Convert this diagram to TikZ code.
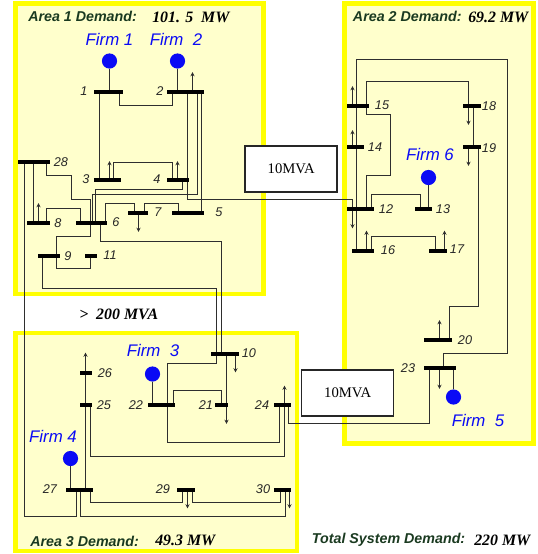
\documentclass[tikz,border=0pt]{standalone}
\usepackage{fontspec}
\setmainfont{Liberation Serif}
\setsansfont{Liberation Sans}
\usetikzlibrary{arrows.meta,calc}
\pgfdeclarelayer{fg}
\pgfsetlayers{main,fg}
\definecolor{areafill}{HTML}{FFFFCC}
\definecolor{areaedge}{HTML}{FFFF00}
\definecolor{wire}{HTML}{2E2E2E}
\definecolor{demand}{HTML}{1A3A20}
\definecolor{firmblue}{HTML}{0A0AF5}
\tikzset{
  x=0.75pt,y=-0.75pt,
  area/.style={draw=areaedge,fill=areafill,line width=3.4pt},
  wireline/.style={draw=wire,line width=0.72pt},
  loadline/.style={draw=wire,line width=0.72pt,-{Stealth[length=3.2pt,width=3pt]}},
  busbar/.style={fill=black,inner sep=0pt,minimum height=3pt,rectangle},
  gen/.style={circle,fill=firmblue,inner sep=0pt,minimum size=11.4pt},
  firmlabel/.style={font=\sffamily\itshape\fontsize{12.6}{14}\selectfont,text=firmblue,inner sep=0pt},
  buslabel/.style={font=\sffamily\itshape\fontsize{9.5}{11}\selectfont,text=black!85,inner sep=0pt},
  demandlabel/.style={font=\sffamily\bfseries\itshape\fontsize{10.7}{13}\selectfont,text=demand,inner sep=0pt,anchor=west},
  valuelabel/.style={font=\rmfamily\bfseries\itshape\fontsize{11.9}{13}\selectfont,text=black,inner sep=0pt,anchor=west},
  mvabox/.style={draw=black!85,fill=white,line width=1.1pt,inner sep=0pt,font=\rmfamily\fontsize{11}{13}\selectfont},
}
\newcommand{\busbar}[4]{%
  \pgfmathsetmacro{\bcx}{(#2+#3)/2}%
  \pgfmathsetmacro{\bw}{(#3-#2)*0.75}%
  \begin{pgfonlayer}{fg}\node[busbar,minimum width=\bw pt] (b#1) at (\bcx,#4) {};\end{pgfonlayer}}
\newcommand{\busname}[3]{\node[buslabel] (t#1) at (#2,#3) {#1};}
\newcommand{\loadat}[3]{\coordinate (l#1) at (#2,#3);\draw[loadline] (l#1 |- b#1) -- (l#1);}
\begin{document}
\begin{tikzpicture}
\useasboundingbox (0,0) rectangle (537,554);
% areas
\draw[area] (15.5,3.5) rectangle (263.5,294);
\draw[area] (344.5,3.5) rectangle (533.5,443.5);
\draw[area] (15.5,333) rectangle (297,551);
% buses
\busbar{1}{94}{123}{92}
\busbar{2}{167}{204}{92}
\busbar{3}{94}{121}{180}
\busbar{4}{167}{189}{180}
\busbar{28}{18}{50}{162}
\busbar{8}{27}{50}{223}
\busbar{6}{76}{107}{223}
\busbar{7}{128}{148}{213}
\busbar{5}{172}{204}{213}
\busbar{9}{38}{60}{256}
\busbar{11}{85}{97}{256}
\busbar{15}{347}{369}{106}
\busbar{14}{347}{364}{147}
\busbar{18}{463}{481}{106}
\busbar{19}{463}{481}{147}
\busbar{12}{347}{374}{209}
\busbar{13}{415}{432}{209}
\busbar{16}{352}{374}{251}
\busbar{17}{429}{447}{251}
\busbar{20}{424}{452}{340}
\busbar{23}{424}{456}{368}
\busbar{10}{211}{239}{354}
\busbar{26}{80}{92}{373}
\busbar{25}{80}{92}{405}
\busbar{22}{148}{175}{405}
\busbar{21}{215}{228}{405}
\busbar{24}{274}{291}{405}
\busbar{27}{66}{93}{490}
\busbar{29}{177}{195}{490}
\busbar{30}{274}{291}{490}
% generators
\node[gen] (g1) at (109.5,61) {};
\node[gen] (g2) at (177.5,61) {};
\node[gen] (g3) at (152.5,374) {};
\node[gen] (g4) at (70.5,458.5) {};
\node[gen] (g5) at (453.5,397) {};
\node[gen] (g6) at (428.5,177.5) {};
\draw[wireline] (g1) -- (g1 |- b1);
\draw[wireline] (g2) -- (g2 |- b2);
\draw[wireline] (g3) -- (g3 |- b22);
\draw[wireline] (g4) -- (g4 |- b27);
\draw[wireline] (g5) -- (g5 |- b23);
\draw[wireline] (g6) -- (g6 |- b13);
% area 1 connectors
\draw[wireline] (119.5,0 |- b1) -- (119.5,105.5) -- (172.5,105.5) -- (172.5,0 |- b2);
\draw[wireline] (99.5,0 |- b1) -- (99.5,0 |- b3);
\draw[wireline] (113.5,0 |- b3) -- (113.5,162.5) -- (172.5,162.5) -- (172.5,0 |- b4);
\draw[wireline] (197.5,0 |- b2) -- (197.5,194.5) -- (92.5,194.5) -- (92.5,0 |- b6);
\draw[wireline] (201.5,0 |- b2) -- (201.5,0 |- b5);
\draw[wireline] (182.5,0 |- b4) -- (182.5,189.5) -- (95.5,189.5) -- (95.5,0 |- b6);
\draw[wireline] (144.5,0 |- b7) -- (144.5,203.5) -- (178.5,203.5) -- (178.5,0 |- b5);
\draw[wireline] (105.5,0 |- b6) -- (105.5,203.5) -- (134.5,203.5) -- (134.5,0 |- b7);
\draw[wireline] (46.5,0 |- b28) -- (46.5,175.5) -- (71.5,175.5) -- (71.5,199.5) -- (90.5,199.5) -- (90.5,0 |- b6);
\draw[wireline] (90.5,0 |- b6) -- (90.5,236.5) -- (56.5,236.5) -- (56.5,0 |- b9);
\draw[wireline] (56.5,0 |- b9) -- (56.5,268.5) -- (90.5,268.5) -- (90.5,0 |- b11);
\draw[wireline] (33.5,0 |- b28) -- (33.5,0 |- b8);
\draw[wireline] (46.5,0 |- b8) -- (46.5,208.5) -- (80.5,208.5) -- (80.5,0 |- b6);
% inter-area connectors
\draw[wireline] (187.5,0 |- b2) -- (187.5,199.5) -- (352.5,199.5) -- (352.5,0 |- b12);
\draw[wireline] (24.5,0 |- b28) -- (24.5,516.5) -- (76.5,516.5) -- (76.5,0 |- b27);
\draw[wireline] (100.5,0 |- b6) -- (100.5,241.5) -- (221.5,241.5) -- (221.5,0 |- b10);
\draw[wireline] (42.5,0 |- b9) -- (42.5,288.5) -- (216.5,288.5) -- (216.5,0 |- b10);
\draw[wireline] (288.5,0 |- b24) -- (288.5,423.5) -- (429.5,423.5) -- (429.5,0 |- b23);
% area 3 connectors
\draw[wireline] (216.5,0 |- b10) -- (216.5,363.5) -- (167.5,363.5) -- (167.5,0 |- b22);
\draw[wireline] (167.5,0 |- b22) -- (167.5,442.5) -- (279.5,442.5) -- (279.5,0 |- b24);
\draw[wireline] (226.5,0 |- b10) -- (226.5,0 |- b21);
\draw[wireline] (173.5,0 |- b22) -- (173.5,390.5) -- (221.5,390.5) -- (221.5,0 |- b21);
\draw[wireline] (85.5,0 |- b27) -- (85.5,0 |- b25);
\draw[wireline] (85.5,0 |- b25) -- (85.5,0 |- b26);
\draw[wireline] (90.5,0 |- b25) -- (90.5,456.5) -- (284.5,456.5) -- (284.5,0 |- b24);
\draw[wireline] (90.5,0 |- b27) -- (90.5,502.5) -- (182.5,502.5) -- (182.5,0 |- b29);
\draw[wireline] (80.5,0 |- b27) -- (80.5,516.5) -- (285.5,516.5) -- (285.5,0 |- b30);
\draw[wireline] (192.5,0 |- b29) -- (192.5,502.5) -- (280.5,502.5) -- (280.5,0 |- b30);
% area 2 connectors
\draw[wireline] (356.5,0 |- b16) -- (356.5,59.5) -- (507.5,59.5) -- (507.5,353.5) -- (443.5,353.5) -- (443.5,0 |- b23);
\draw[wireline] (366.5,0 |- b15) -- (366.5,81.5) -- (468.5,81.5) -- (468.5,0 |- b18);
\draw[wireline] (366.5,0 |- b15) -- (366.5,114.5) -- (390.5,114.5) -- (390.5,175.5) -- (366.5,175.5) -- (366.5,0 |- b12);
\draw[wireline] (371.5,0 |- b12) -- (371.5,194.5) -- (420.5,194.5) -- (420.5,0 |- b13);
\draw[wireline] (371.5,0 |- b16) -- (371.5,236.5) -- (435.5,236.5) -- (435.5,0 |- b17);
\draw[wireline] (473.5,0 |- b18) -- (473.5,0 |- b19);
\draw[wireline] (478.5,0 |- b19) -- (478.5,306.5) -- (449.5,306.5) -- (449.5,0 |- b20);
% loads
\loadat{2}{192.5}{72}
\loadat{3}{109.5}{161}
\loadat{4}{177.5}{161}
\loadat{8}{38.5}{203}
\loadat{7}{138.5}{232}
\loadat{15}{352.5}{86}
\loadat{14}{352.5}{130}
\loadat{12}{352.5}{228.5}
\loadat{16}{366.5}{230.5}
\loadat{17}{444.5}{230.5}
\loadat{18}{468.5}{125}
\loadat{19}{468.5}{166}
\loadat{20}{439.5}{320}
\loadat{23}{439.5}{389}
\loadat{10}{235.5}{372.5}
\loadat{21}{226.5}{424}
\loadat{26}{85.5}{352.5}
\loadat{24}{284.5}{385.5}
\loadat{29}{187.5}{508.5}
\loadat{30}{289.5}{508.5}
% capacity boxes
\node[mvabox,minimum width=69pt,minimum height=34.5pt] (m1) at (291.2,169) {10MVA};
\node[mvabox,minimum width=69pt,minimum height=34.5pt] (m2) at (347.7,393.2) {10MVA};
% firm names
\node[firmlabel] (f1) at (109.5,39) {Firm 1};
\node[firmlabel] (f2) at (176,39) {Firm\ \ 2};
\node[firmlabel] (f3) at (153,350.7) {Firm\ \ 3};
\node[firmlabel] (f4) at (53,436.7) {Firm 4};
\node[firmlabel] (f5) at (478,420) {Firm\ \ 5};
\node[firmlabel] (f6) at (430,154) {Firm 6};
% bus numbers
\busname{1}{84}{90.7}
\busname{2}{160}{90.7}
\busname{3}{86}{179}
\busname{4}{157}{179}
\busname{28}{61}{162}
\busname{8}{58}{223}
\busname{6}{116}{222}
\busname{7}{158}{212}
\busname{5}{219}{212}
\busname{9}{68}{256}
\busname{11}{110}{255}
\busname{15}{382}{105}
\busname{14}{375}{147}
\busname{18}{489}{106}
\busname{19}{489}{148}
\busname{12}{386}{209}
\busname{13}{443}{209}
\busname{16}{388}{250}
\busname{17}{457}{249}
\busname{20}{465}{340}
\busname{23}{408}{368}
\busname{10}{249}{353}
\busname{26}{105}{373}
\busname{25}{104}{405}
\busname{22}{136}{405}
\busname{21}{206}{405}
\busname{24}{262}{405}
\busname{27}{50}{489}
\busname{29}{163}{489}
\busname{30}{263}{489}
% demand texts
\node[demandlabel] (d1) at (28,16) {Area 1 Demand:};
\node[valuelabel] (v1) at (152,17) {101. 5\ \ MW};
\node[demandlabel] (d2) at (352.7,16.7) {Area 2 Demand:};
\node[valuelabel] (v2) at (468,17) {69.2 MW};
\node[demandlabel] (d3) at (30,541) {Area 3 Demand:};
\node[valuelabel] (v3) at (155,540.5) {49.3 MW};
\node[demandlabel] (d4) at (311.7,540) {Total System Demand:};
\node[valuelabel] (v4) at (474,540) {220 MW};
\node[valuelabel] (cap) at (79,314) {>\ \ 200 MVA};
\end{tikzpicture}
\end{document}
